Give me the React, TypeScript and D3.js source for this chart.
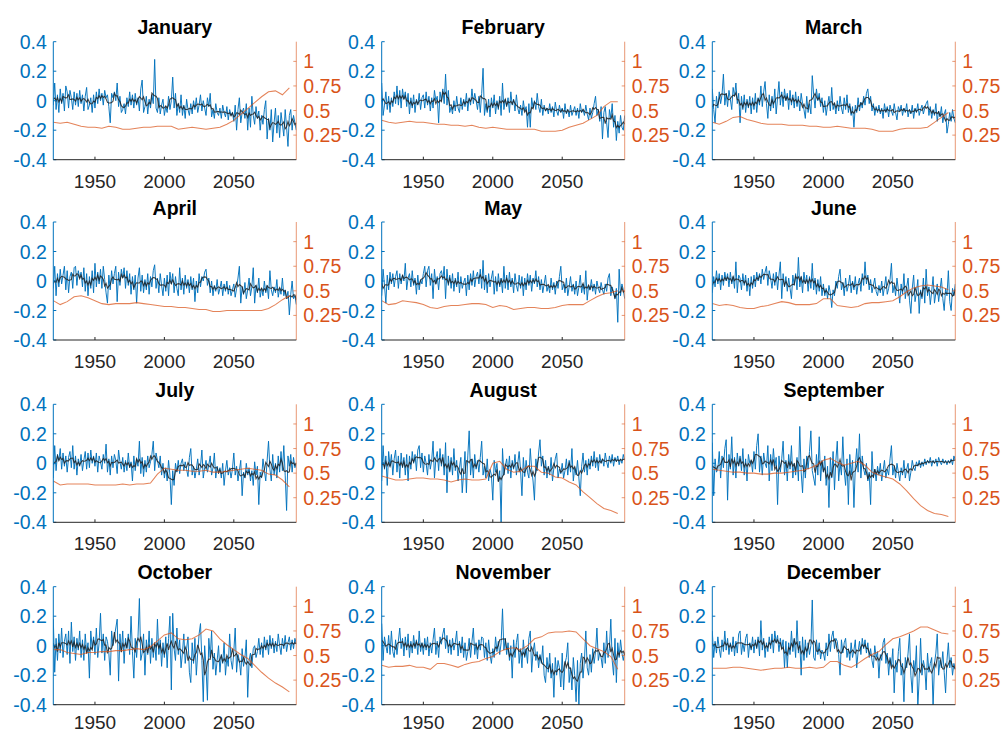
import React from 'react';
import * as d3 from 'd3';

const months = ['January', 'February', 'March', 'April', 'May', 'June', 'July', 'August', 'September', 'October', 'November', 'December'];
const years = d3.range(1920, 2096);
const orangeYears = d3.range(1920, 2091, 5);
const leftTicks = [-0.4, -0.2, 0, 0.2, 0.4];
const rightTicks = [0.25, 0.5, 0.75, 1];
const xTicks = [1950, 2000, 2050];

const janBlue = [-.03,.12,-.06,.04,-.08,.08,-.02,.05,-.07,.10,
.06,-.05,.07,.02,-.06,.06,-.03,.05,-.04,.07,
-.02,.04,-.07,.03,.09,-.06,-.03,.02,-.08,.04,
-.05,.06,-.02,.08,0,.05,-.03,.07,.02,.04,
-.04,-.15,.05,.02,.06,0,.12,-.04,.03,-.08,
-.06,-.02,-.09,.02,-.04,.06,-.03,.04,-.05,.05,
-.03,.02,-.07,.08,.14,-.08,-.04,.03,-.09,.01,
-.05,.04,-.02,.28,-.05,-.08,.02,-.09,-.03,.01,
-.1,-.04,-.08,.03,-.06,0,.16,-.05,.05,-.1,
-.02,-.08,.04,-.1,-.03,-.12,.01,-.06,-.1,-.02,
-.09,0,-.06,.02,-.08,-.03,.04,-.07,0,-.05,
-.1,.02,-.04,.05,-.11,-.06,-.12,-.02,-.08,-.1,
-.05,-.12,-.03,-.08,-.11,-.04,-.13,-.06,-.1,-.08,
-.14,-.03,-.2,-.06,.02,-.15,-.08,-.05,-.12,-.02,
-.2,-.05,-.18,.03,-.1,-.16,-.04,-.12,-.07,-.2,
-.1,-.16,-.06,0,-.26,-.12,-.2,-.06,-.28,-.15,
-.05,-.22,-.1,-.25,-.08,-.16,-.24,-.06,-.18,-.31,
-.1,-.06,-.2,-.1,-.15,-.2];
const febBlue = [.12,-.1,-.03,.06,-.06,.03,-.08,.02,-.04,.06,
-.02,.1,-.03,.07,-.05,.08,.01,.06,-.04,.05,
-.09,.02,-.05,.04,-.08,.01,-.03,.05,-.06,.02,
.04,-.05,.06,-.03,.03,-.07,.02,-.05,.07,0,
.03,-.15,.06,0,.08,-.02,.18,-.03,.07,-.08,
-.04,-.09,0,-.07,.03,-.05,-.08,.02,-.06,.01,
-.04,.05,-.07,.02,-.03,.08,-.02,.05,0,-.06,
.03,-.08,.05,.22,-.1,-.02,-.08,.01,-.11,.02,
-.05,.04,-.09,0,-.06,.03,-.1,.12,-.06,.01,
-.04,.02,-.08,.06,-.03,.01,-.07,.04,-.05,-.09,
-.03,-.1,0,-.07,-.04,-.18,-.02,-.18,.02,-.05,
0,-.06,.05,-.04,-.08,.01,-.1,-.03,-.07,-.05,
-.09,-.02,-.08,-.04,-.11,-.01,-.07,-.1,-.03,-.08,
-.05,-.12,-.02,-.09,-.06,-.11,-.03,-.1,-.07,-.04,
-.1,-.05,-.12,-.02,-.08,-.06,-.1,-.03,-.09,-.13,
-.05,-.12,-.08,-.02,.03,-.1,-.06,-.14,-.04,-.26,
-.08,-.04,-.15,-.25,-.06,-.12,-.02,-.18,-.1,-.27,
-.14,-.22,-.1,-.18,-.2,-.1];
const marBlue = [.08,-.06,-.15,.03,-.05,.06,-.02,.04,.18,-.03,
.05,-.04,.07,.01,-.06,.09,.03,.12,-.02,.05,
-.15,.03,-.06,.04,-.08,.01,-.05,.03,-.09,.02,
-.06,.05,-.08,.02,-.03,.1,-.04,.06,.13,-.02,
-.12,.04,-.07,.03,-.05,.08,-.09,.02,.13,-.03,
.06,-.04,.08,0,.05,-.06,.07,-.03,.04,-.05,
.06,-.04,.03,-.07,.05,-.02,-.06,-.12,.03,-.08,
-.02,-.09,.17,.04,-.05,.08,0,.05,-.04,.02,
-.08,0,-.1,-.03,.03,-.07,.09,-.06,-.02,-.09,
0,-.07,.03,-.05,-.09,.02,-.06,.04,-.08,-.02,
-.1,-.04,-.18,-.03,-.08,.02,-.07,-.01,-.05,.03,
-.03,.05,.08,-.02,.03,-.07,-.02,-.1,-.04,-.08,
-.03,-.09,-.05,-.12,-.02,-.08,-.04,-.11,-.03,-.07,
-.1,-.02,-.08,-.13,-.04,-.07,-.03,-.1,-.05,-.08,
-.02,-.11,-.06,-.09,-.03,-.12,-.05,-.08,-.02,-.1,
-.06,-.03,-.09,-.05,-.02,0,-.1,-.04,-.12,-.06,
-.1,-.02,-.14,-.07,-.11,-.04,-.15,-.09,-.06,-.22,
-.16,-.08,-.14,-.06,-.12,-.15];
const aprBlue = [-.05,.1,-.1,.05,-.04,.08,-.02,.04,.1,-.06,
.07,-.08,.03,.06,-.05,.09,.1,-.03,.07,.02,
.06,-.04,.09,-.07,.05,-.1,.03,-.05,.07,-.08,
.12,-.04,.06,-.02,.08,-.05,.1,.01,-.08,-.15,
.04,-.06,.07,-.02,.05,.1,-.14,.06,-.03,.08,
.02,.09,-.05,.07,-.03,.05,-.09,.03,-.06,.04,
-.15,.02,.09,-.07,.04,-.08,.01,-.06,.05,-.09,
.03,-.04,.07,.11,-.05,.02,-.08,.05,-.03,-.1,
.02,-.07,.04,-.1,.06,-.02,.05,-.08,.03,-.05,
-.1,.09,-.06,.02,-.09,.04,-.05,.01,-.08,.03,
-.06,.02,-.14,0,-.08,.05,-.04,.03,0,.06,
.08,-.03,.02,-.08,0,-.1,-.03,-.07,.01,-.09,
-.05,0,-.1,-.02,-.07,0,-.09,-.03,-.1,-.06,
-.02,-.11,-.05,.02,.1,-.15,-.04,-.09,-.01,-.12,
-.06,.02,-.1,-.04,.09,-.15,-.03,-.08,.02,-.11,
-.05,-.1,0,-.08,-.03,-.12,.07,-.06,-.1,-.04,
-.08,.01,-.11,-.05,-.09,.02,-.1,-.06,-.12,-.07,
-.23,-.09,0,-.12,-.1,-.16];
const mayBlue = [-.1,.08,-.03,-.15,.04,-.06,.06,-.02,.05,-.04,
.03,.07,-.05,.05,-.02,.04,0,.12,-.06,.02,
.05,-.04,.07,-.03,.02,-.09,.04,-.06,.01,-.02,
.05,.1,-.04,.07,.1,-.03,.05,-.12,.08,-.02,
.03,-.06,.05,.07,.01,.1,-.12,.08,-.03,.04,
-.05,.05,-.07,.02,-.04,.06,-.08,.03,-.05,-.01,
.02,-.1,.04,-.06,.05,-.03,.07,-.04,.03,.06,
-.02,.08,-.05,.14,-.06,.04,-.08,.05,-.04,.02,
.07,-.09,.03,-.07,.05,-.04,.02,-.08,.1,-.05,
.04,-.06,.06,-.04,.02,-.08,.05,-.03,-.07,.04,
-.05,.03,-.1,.02,-.06,.05,-.03,.04,-.07,.02,
-.02,.07,-.04,.03,-.06,.01,-.08,-.02,.04,-.07,
-.03,-.08,.02,-.06,-.01,-.09,0,-.05,.03,.1,
-.06,-.02,-.08,.02,-.1,-.04,.03,-.07,-.02,-.09,
0,-.1,-.04,.04,-.08,-.02,-.09,.07,-.13,-.03,
-.06,.01,-.07,-.02,-.09,0,-.05,-.08,-.01,-.06,
-.09,-.02,-.07,.02,.05,-.1,-.04,-.08,-.12,-.05,
-.28,.08,-.1,-.02,-.06,-.12];
const junBlue = [-.08,.03,-.04,.07,-.02,.05,-.06,.04,-.03,.06,
0,.05,-.04,.06,-.02,.03,-.05,.13,-.08,.04,
.02,-.06,.05,-.03,.04,-.07,.02,-.1,.03,-.05,
.04,-.04,.06,0,.05,-.02,.08,.01,.06,.1,
-.03,.07,.02,-.05,.05,-.03,.06,-.06,.04,.13,
-.12,.05,-.04,.03,-.07,.02,-.05,-.12,.04,-.03,
.05,-.06,.16,-.04,.03,-.08,.06,-.02,.04,-.07,
.03,-.05,.12,-.06,.02,-.09,.01,-.07,.03,-.1,
-.02,-.1,-.05,-.12,-.03,-.08,-.18,-.06,-.1,0,
-.05,.03,.08,-.06,-.01,-.1,.02,-.07,-.03,.04,
-.08,0,-.06,.03,-.09,-.02,.02,-.07,.05,-.03,
.13,-.02,.04,-.06,.01,-.08,-.03,.02,-.07,-.1,
-.03,-.08,0,-.1,-.04,.03,-.09,-.05,.01,.12,
-.08,-.03,-.1,.02,-.06,-.15,-.02,-.09,.05,-.12,
-.04,.02,-.13,-.22,-.05,.04,-.14,-.08,.01,-.22,
-.06,-.12,.02,-.15,.08,-.1,-.04,-.16,-.07,.03,
-.15,-.08,-.02,-.14,-.06,.02,-.12,-.2,-.05,-.1,
.07,-.14,-.2,-.05,-.1,-.02];
const julBlue = [-.1,.12,-.05,.06,.02,.1,-.04,.07,-.02,.05,
-.06,.04,.08,-.03,.12,-.04,.05,-.08,.03,-.02,
.06,-.05,.02,.08,-.04,.07,-.03,.09,0,.05,
-.02,.07,-.06,.05,.01,-.04,.06,0,.13,-.06,
.03,-.08,.05,-.03,.06,.02,-.07,.09,.01,-.04,
.04,-.06,.02,-.05,.07,-.03,.01,-.12,.05,-.05,
.03,-.02,.15,-.07,.04,-.09,.02,-.06,.05,-.03,
.01,.06,.15,-.05,.07,.02,-.03,.05,-.08,0,
-.1,-.03,-.12,.02,-.08,-.28,-.05,-.15,0,-.06,
.02,-.07,0,.03,-.05,.01,-.04,-.09,.04,.1,
-.08,-.02,-.1,-.04,.03,-.08,-.02,.09,-.1,-.03,
.02,-.06,-.01,.05,-.08,-.03,.07,-.1,-.02,-.07,
-.03,-.1,0,-.15,-.05,.02,-.08,-.03,-.1,-.04,
.07,-.08,-.02,-.12,-.05,.02,-.22,-.06,-.1,0,
-.08,-.03,-.12,-.05,-.15,.01,-.08,-.02,-.28,-.06,
-.1,.03,-.05,-.12,.02,.15,-.04,-.12,.06,-.08,
0,-.1,.05,-.06,.08,-.05,.12,-.08,-.32,.05,
-.02,.06,-.06,.04,-.03,0];
const augBlue = [-.12,.12,-.04,.05,-.15,.08,-.02,.06,-.08,.03,
.09,-.06,.05,-.1,.07,-.03,.04,-.08,.06,-.12,
.05,-.04,.08,0,.06,-.05,.09,.12,-.03,.07,
-.06,.05,0,-.08,.06,-.04,.02,.15,-.1,.03,
.08,-.05,.1,-.02,.06,-.08,.14,-.2,.05,-.06,
.04,-.08,.1,-.05,.02,-.12,-.03,.04,-.2,-.06,
.08,-.2,.05,.22,-.08,.03,-.1,.06,-.04,.02,
-.06,.04,.15,-.08,-.02,-.1,.03,-.12,-.04,-.08,
-.25,.02,-.06,0,-.12,-.05,-.4,.1,-.08,-.02,
.03,-.07,.05,-.1,.02,-.04,.06,-.08,0,.08,
-.05,-.22,.04,-.09,.02,-.06,-.1,.1,-.04,-.12,
-.25,.03,-.05,.07,.16,-.02,.05,-.08,.02,-.1,
-.02,-.08,.04,-.12,-.03,.03,.07,-.1,-.04,-.07,
0,-.1,-.05,.03,-.08,.02,-.06,.1,-.12,-.03,
-.08,.02,-.1,-.22,-.02,.07,-.06,.02,-.08,.03,
-.04,.05,-.02,.08,-.03,.04,-.05,.06,0,.03,
-.02,.07,.01,-.03,.05,0,.06,-.02,.04,.01,
.05,-.01,.03,0,.06,.02];
const sepBlue = [.14,-.22,.03,-.06,-.04,.08,-.1,.05,-.03,.1,
.16,-.25,.06,-.04,.18,-.08,.04,-.1,.07,-.02,
.05,-.05,.1,-.08,.03,-.12,.06,0,.02,-.06,
.08,-.04,.12,.2,-.06,.05,-.08,.07,0,-.03,
.12,-.12,.06,-.05,.1,-.02,.04,-.28,.05,-.06,
.03,.15,-.08,.02,-.12,.06,-.04,.12,-.1,0,
-.08,.04,-.12,.25,-.06,-.2,.03,-.1,.05,-.04,
.08,.22,-.05,-.1,-.15,.06,-.08,.18,-.12,.02,
-.06,.05,-.15,-.02,-.3,.04,-.1,.08,-.18,.02,
.15,-.12,0,-.08,.18,-.05,-.15,.03,-.28,.06,
-.08,.02,-.3,-.02,.1,-.06,.2,-.1,.05,-.04,
-.08,0,-.12,-.06,-.28,.08,-.1,-.04,-.12,-.02,
-.08,0,-.12,-.05,.02,-.1,-.04,-.08,.03,.12,
-.08,-.02,-.1,0,-.06,-.12,-.03,-.08,.02,-.1,
-.04,0,-.12,-.06,.02,-.03,-.05,.01,-.02,.02,
-.03,.01,-.02,.03,-.01,.02,0,.04,-.02,.02,
0,.03,-.02,.04,.01,-.01,.03,0,.02,-.01,
.02,0,.03,-.01,.05,.02];
const octBlue = [.18,-.18,.05,-.1,.08,-.05,.12,-.08,.03,.08,
-.06,.1,-.12,.16,-.04,.06,-.1,.05,-.03,.1,
-.08,.04,-.1,.08,-.05,.02,-.22,.1,-.02,.06,
-.06,.12,-.08,.02,.22,-.05,.08,-.1,.06,.03,
-.05,-.2,.1,0,.06,.12,.18,-.24,.08,-.04,
.1,-.12,.05,-.02,.08,-.06,.2,-.04,-.22,.05,
-.08,.06,.32,-.1,-.05,.08,-.2,.04,-.06,.1,
-.12,.05,-.08,.02,-.1,.18,-.06,.04,-.14,.02,
-.08,.06,-.15,.05,.2,-.3,.22,-.02,-.1,.12,
-.06,.04,-.15,-.05,.08,-.12,-.02,.06,-.18,-.25,
.02,-.12,.05,-.2,-.05,.08,.15,-.1,-.38,0,
-.15,-.37,.05,-.08,.1,-.16,-.05,-.2,-.1,0,
-.18,-.06,-.12,.02,-.2,-.08,-.14,.08,-.1,-.16,
-.04,.12,-.18,-.06,-.1,-.2,-.02,-.14,-.08,.04,
-.35,-.1,-.05,-.15,-.02,0,-.08,-.04,.05,-.06,
.02,-.08,.06,-.03,.04,-.06,.07,-.02,.05,-.05,
.03,-.04,.08,0,-.06,.05,-.02,.07,-.04,.02,
.06,-.03,.04,-.02,.05,.01];
const novBlue = [.15,-.1,.06,0,-.05,.07,-.06,.1,-.04,-.08,
.04,-.06,.03,.12,-.02,.05,-.07,.06,-.03,.08,
-.08,.03,-.05,.07,-.02,.04,-.06,.1,-.04,.02,
-.06,.05,-.03,.06,-.07,.02,-.05,.04,.12,-.06,
.03,-.08,.06,.01,.08,.12,-.02,.07,-.05,.04,
-.06,.05,-.03,.02,.1,-.07,.03,-.05,.06,-.08,
.02,-.1,-.04,.05,-.08,.03,.12,-.06,.02,-.09,
.04,-.03,.06,.05,-.08,.02,-.1,.04,-.06,-.12,
-.02,-.08,.06,-.04,.03,-.06,.02,.25,-.03,.05,
-.06,.02,-.1,0,-.22,.04,-.08,.02,.08,-.12,
-.02,-.15,.04,-.08,-.02,-.12,.05,.1,-.18,-.04,
.02,-.1,-.04,-.15,-.06,-.12,0,-.2,-.25,-.08,
-.18,-.05,-.22,-.12,-.35,-.08,-.2,-.1,-.15,-.28,
-.05,-.3,-.12,-.08,.02,-.25,-.15,-.3,-.08,-.2,
-.38,-.1,-.4,-.12,-.05,-.22,-.1,.1,-.15,-.2,
-.06,-.18,-.02,-.12,-.04,.12,-.1,-.05,-.08,-.15,
.02,-.12,.1,-.08,-.02,.18,-.1,-.2,.05,-.25,
.02,-.08,.04,-.05,-.1,-.04];
const decBlue = [.1,-.08,.03,-.05,.06,-.02,-.08,.04,-.04,.1,
-.03,.05,-.06,.02,-.04,.06,-.07,.03,-.05,.08,
.1,-.06,.02,-.04,.05,.08,-.08,.02,-.03,.06,
-.05,.04,-.02,.06,-.07,.17,-.03,.05,-.08,.02,
-.04,.06,-.02,.08,-.05,.1,.02,.07,-.04,.05,
-.02,.04,-.15,.03,-.15,.02,-.06,.1,-.04,.05,
-.08,.17,-.05,.03,-.2,.06,-.1,.04,-.08,.02,
-.06,0,.31,-.08,-.1,.04,-.06,.02,-.09,-.03,
-.05,-.1,.02,-.07,.08,-.04,.06,.1,-.02,.05,
.03,-.06,-.2,.04,-.05,.02,.05,-.08,-.02,-.1,
.02,-.08,-.03,.04,-.15,-.04,.03,-.06,.05,-.02,
.04,-.05,.02,-.08,-.02,-.1,-.15,0,-.08,-.04,
-.22,-.06,-.1,.02,.05,-.12,-.05,-.2,-.08,-.14,
-.02,-.32,-.1,-.18,-.04,.05,-.2,-.12,-.38,-.08,
-.15,-.05,.08,-.2,-.32,-.1,-.18,0,-.42,-.22,
.05,-.2,-.1,-.15,-.3,-.05,-.18,-.12,-.08,-.42,
-.12,-.05,.08,-.2,-.1,-.15,-.04,-.18,-.32,-.1,
.02,-.15,-.08,-.2,-.12,-.16];

const janOrange = [.38,.37,.38,.36,.34,.33,.33,.32,.34,.33,.31,.31,.32,.33,.33,.34,.34,.34,.31,.32,.33,.32,.31,.32,.33,.36,.40,.46,.52,.58,.64,.69,.70,.66,.73];
const febOrange = [.40,.38,.37,.38,.39,.38,.38,.37,.36,.36,.35,.35,.34,.35,.33,.32,.33,.32,.31,.31,.31,.31,.31,.29,.29,.29,.30,.33,.35,.37,.41,.45,.54,.59,.59];
const marOrange = [.38,.36,.39,.43,.44,.41,.39,.37,.36,.36,.36,.35,.35,.35,.34,.34,.33,.33,.34,.33,.32,.32,.32,.31,.29,.29,.29,.31,.32,.32,.32,.33,.38,.43,.48];
const aprOrange = [.40,.36,.39,.44,.45,.43,.40,.37,.36,.37,.37,.37,.38,.37,.36,.35,.34,.34,.33,.33,.32,.31,.31,.29,.29,.30,.30,.30,.30,.30,.30,.32,.36,.41,.45];
const mayOrange = [.40,.36,.37,.40,.39,.38,.36,.33,.32,.34,.35,.35,.36,.37,.37,.36,.33,.35,.34,.31,.32,.33,.33,.32,.32,.33,.35,.36,.36,.36,.40,.44,.47,.48,.50];
const junOrange = [.37,.35,.36,.35,.33,.32,.32,.34,.35,.37,.39,.38,.36,.36,.36,.37,.42,.42,.35,.34,.33,.34,.37,.38,.38,.39,.40,.44,.49,.53,.55,.56,.55,.54,.51];
const julOrange = [.42,.38,.39,.39,.39,.39,.38,.38,.38,.38,.39,.38,.39,.39,.40,.49,.55,.54,.53,.53,.52,.52,.53,.51,.51,.52,.53,.54,.55,.54,.53,.49,.48,.43,.36];
const augOrange = [.47,.45,.43,.43,.44,.45,.45,.44,.44,.43,.41,.43,.44,.43,.43,.44,.60,.62,.54,.51,.52,.57,.57,.51,.50,.46,.45,.41,.38,.31,.25,.19,.14,.12,.09];
const sepOrange = [.54,.53,.52,.51,.51,.50,.50,.49,.49,.50,.50,.51,.52,.53,.55,.58,.63,.65,.61,.58,.60,.62,.58,.51,.48,.46,.44,.39,.32,.24,.17,.12,.09,.08,.06];
const octOrange = [.56,.56,.53,.52,.51,.53,.53,.54,.54,.55,.55,.56,.57,.56,.59,.65,.71,.73,.67,.66,.67,.71,.77,.75,.67,.61,.56,.51,.47,.40,.33,.27,.22,.18,.13];
const novOrange = [.40,.38,.39,.39,.40,.38,.38,.36,.42,.42,.40,.38,.41,.43,.44,.47,.49,.54,.57,.58,.56,.60,.67,.69,.73,.74,.74,.75,.74,.67,.60,.57,.54,.49,.36];
const decOrange = [.37,.37,.37,.38,.38,.37,.36,.35,.36,.37,.37,.38,.37,.37,.38,.37,.38,.44,.44,.40,.38,.42,.47,.51,.54,.61,.67,.69,.72,.75,.79,.79,.76,.73,.72];

const blueSeries = [janBlue, febBlue, marBlue, aprBlue, mayBlue, junBlue, julBlue, augBlue, sepBlue, octBlue, novBlue, decBlue];
const orangeSeries = [janOrange, febOrange, marOrange, aprOrange, mayOrange, junOrange, julOrange, augOrange, sepOrange, octOrange, novOrange, decOrange];

const BLUE = '#0072BD';
const ORANGE = '#D95319';
const DARK = '#262626';
const FONT = '"Liberation Sans", Arial, Helvetica, sans-serif';

const colLeft = [53.3, 381.7, 712.3];
const rowTop = [41.7, 222, 404.3, 586.7];
const W = 243;
const H = 118;

function runningMean(v: number[], k: number): number[] {
  return v.map((_, i) => d3.mean(v.slice(Math.max(0, i - k), Math.min(v.length, i + k + 1))) as number);
}

function Panel({ idx }: { idx: number }) {
  const row = Math.floor(idx / 3);
  const x0 = colLeft[idx % 3];
  const y0 = rowTop[row];
  const x = d3.scaleLinear().domain([1920, 2095]).range([0, W]);
  const yL = d3.scaleLinear().domain([-0.4, 0.4]).range([H, 0]);
  const yR = d3.scaleLinear().domain([0, 1.2]).range([H, 0]);
  const blue = blueSeries[idx];
  const orange = orangeSeries[idx];
  const smooth = runningMean(blue, 2);
  const lineBlue = d3.line<number>().x((_, j) => x(years[j])).y(d => yL(d));
  const lineOrange = d3.line<number>().x((_, j) => x(orangeYears[j])).y(d => yR(d));
  const clipId = `clip-${idx}`;
  const fmtL = (v: number) => (v === 0 ? '0' : d3.format('.1f')(v).replace('\u2212', '-'));
  const fmtR = (v: number) => String(v);
  const xLabelY = row === 3 ? H + 24 : H + 28;
  return (
    <g transform={`translate(${x0},${y0})`}>
      <defs>
        <clipPath id={clipId}>
          <rect x={0} y={0} width={W} height={H} />
        </clipPath>
      </defs>
      <text x={W / 2} y={-7.5} textAnchor="middle" fontFamily={FONT} fontWeight="bold" fontSize={19.5} fill="#000">
        {months[idx]}
      </text>
      <g clipPath={`url(#${clipId})`}>
        <path d={lineBlue(blue) || ''} fill="none" stroke={BLUE} strokeWidth={0.95} strokeLinejoin="round" />
        <path d={lineBlue(smooth) || ''} fill="none" stroke="#1f1f1f" strokeWidth={1.05} strokeOpacity={0.85} />
        <path d={lineOrange(orange) || ''} fill="none" stroke={ORANGE} strokeWidth={1.05} strokeOpacity={0.72} />
      </g>
      <line x1={0} y1={0} x2={0} y2={H} stroke={BLUE} strokeWidth={1} />
      {leftTicks.map(t => (
        <g key={`l${t}`}>
          <line x1={0} x2={3} y1={yL(t)} y2={yL(t)} stroke={BLUE} strokeWidth={1} />
          <text x={-6.5} y={yL(t)} dy="0.36em" textAnchor="end" fontFamily={FONT} fontSize={19.5} fill={BLUE}>
            {fmtL(t)}
          </text>
        </g>
      ))}
      <line x1={W} y1={0} x2={W} y2={H} stroke={ORANGE} strokeWidth={1} strokeOpacity={0.6} />
      {rightTicks.map(t => (
        <g key={`r${t}`}>
          <line x1={W - 3} x2={W} y1={yR(t)} y2={yR(t)} stroke={ORANGE} strokeWidth={1} strokeOpacity={0.6} />
          <text x={W + 7} y={yR(t)} dy="0.36em" textAnchor="start" fontFamily={FONT} fontSize={19.5} fill={ORANGE}>
            {fmtR(t)}
          </text>
        </g>
      ))}
      <line x1={0} y1={H} x2={W} y2={H} stroke={DARK} strokeWidth={1} />
      {xTicks.map(t => (
        <g key={`x${t}`}>
          <line x1={x(t)} x2={x(t)} y1={H} y2={H - 3} stroke={DARK} strokeWidth={1} />
          <text x={x(t)} y={xLabelY} textAnchor="middle" fontFamily={FONT} fontSize={19} fill={DARK}>
            {t}
          </text>
        </g>
      ))}
    </g>
  );
}

export default function App() {
  return (
    <svg
      width={1001}
      height={732}
      style={{ position: 'absolute', left: 0, top: 0, background: '#fff' }}
    >
      <rect x={0} y={0} width={1001} height={732} fill="#fff" />
      {months.map((_, i) => (
        <Panel key={i} idx={i} />
      ))}
    </svg>
  );
}
